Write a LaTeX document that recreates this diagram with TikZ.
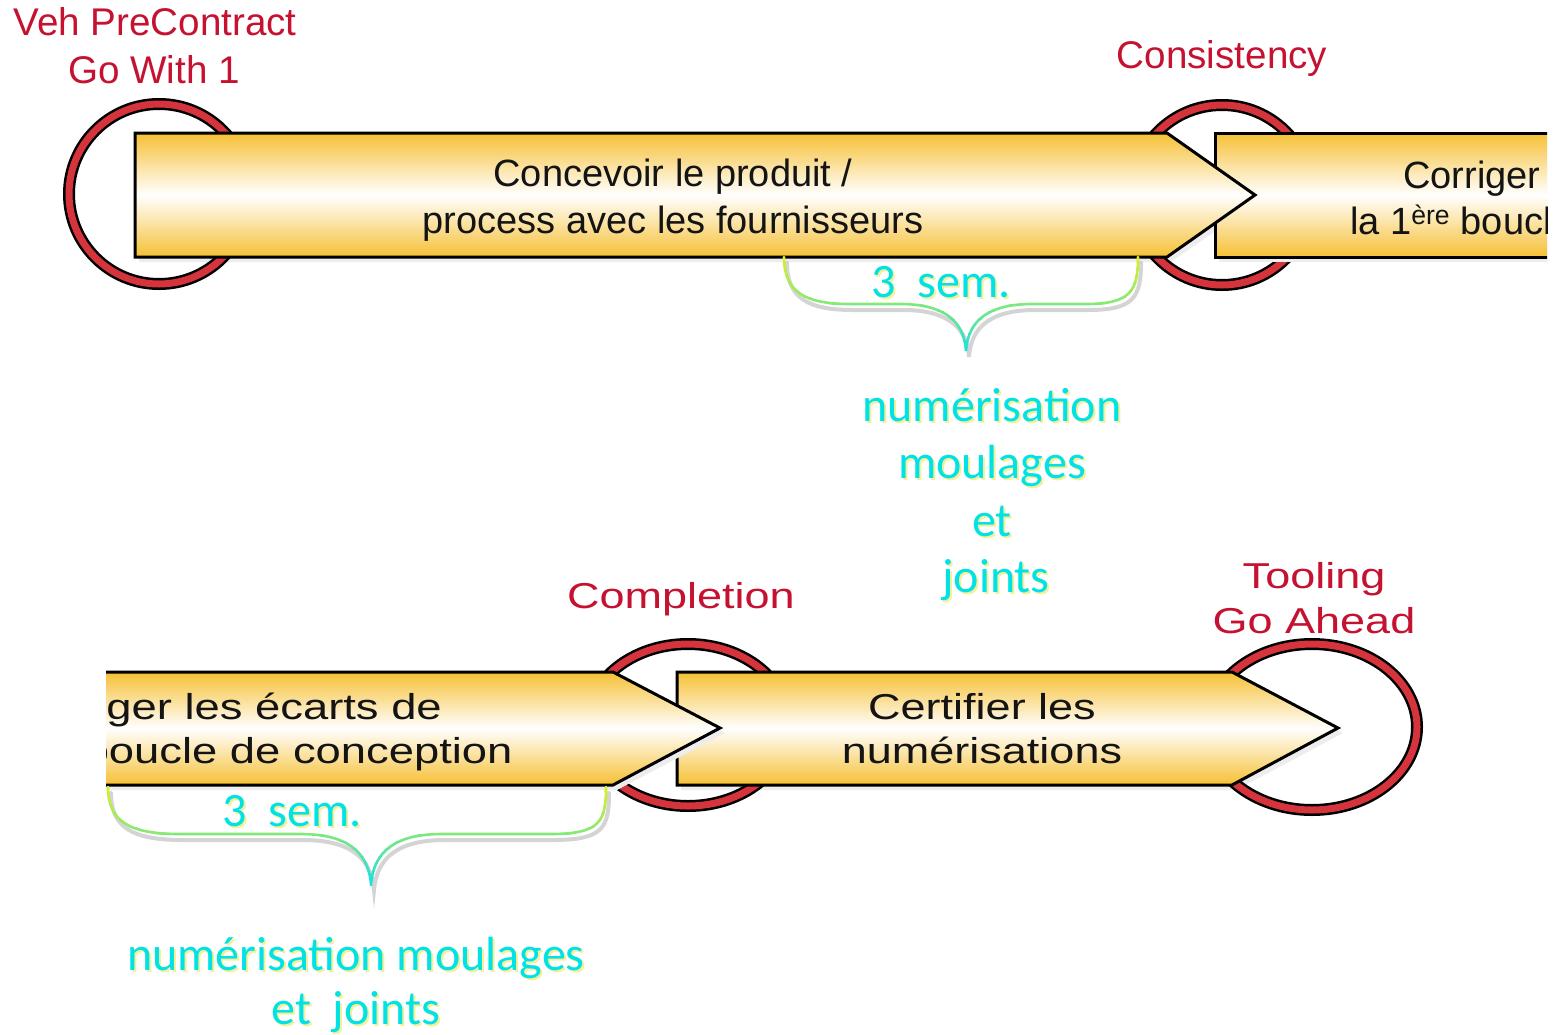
\documentclass[tikz,border=0pt]{standalone}
\usepackage{fontspec}
\setmainfont{Liberation Sans}
\newfontfamily\calfont{Carlito}
\usepackage{graphicx}
\definecolor{gold}{RGB}{246,192,52}
\definecolor{ringred}{RGB}{214,52,60}
\definecolor{ringpink}{RGB}{242,176,180}
\definecolor{lblred}{RGB}{196,18,48}
\definecolor{cyanT}{RGB}{0,226,230}
\definecolor{glowY}{RGB}{240,236,120}
\definecolor{txt}{RGB}{20,20,20}
\definecolor{brY}{RGB}{228,240,30}
\definecolor{brG}{RGB}{130,232,120}
\definecolor{brC}{RGB}{20,224,232}
\newcommand\ringat[5]{%
  \coordinate (#1) at (#2,#3);
  \draw[ringblack] (#1) ellipse [x radius=#4, y radius=#5];
  \draw[ringband] (#1) ellipse [x radius=#4, y radius=#5];
}
\newcommand\cyanline[5]{%
  \node[cyglow,#5] (#1g) at (#2+2,#3+2) {#4};
  \node[cytext,#5] (#1) at (#2,#3) {#4};
}
\tikzset{
  arrowshape/.style={draw=black, line width=3pt, line join=miter,
    top color=gold, bottom color=gold, middle color=white},
  arrowshadow/.style={fill=black!7},
  ringblack/.style={draw=black, line width=12pt},
  ringband/.style={draw=ringred, line width=7pt},
  lbl/.style={text=lblred, anchor=base, inner sep=0pt},
  lbltop/.style={lbl, font=\fontsize{38.6}{46}\selectfont},
  lblbot/.style={lbl, font=\fontsize{36}{44}\selectfont},
  arrtxt/.style={text=txt, anchor=base, inner sep=0pt},
  arrtop/.style={arrtxt, font=\fontsize{38}{48}\selectfont},
  arrbot/.style={arrtxt, font=\fontsize{36}{44}\selectfont},
  cytext/.style={text=cyanT, anchor=base, inner sep=0pt, font=\calfont\fontsize{48}{57}\selectfont},
  cyglow/.style={text=glowY, text opacity=0.75, anchor=base, inner sep=0pt, font=\calfont\fontsize{48}{57}\selectfont},
  braceshadow/.style={draw=black!55, draw opacity=0.3, line width=4pt, line cap=round},
  bracetop/.style={insert path={(784,257) .. controls (784,292) and (805,304) .. (850,304) -- (900,304) .. controls (940,304) and (964,318) .. (966,351) .. controls (968,318) and (992,304) .. (1032,304) -- (1085,304) .. controls (1130,304) and (1138,292) .. (1138,257)}},
  bracebot/.style={insert path={(108,787) .. controls (108,822) and (130,834) .. (180,834) -- (300,834) .. controls (345,834) and (368,850) .. (371,884) .. controls (374,850) and (397,834) .. (442,834) -- (550,834) .. controls (600,834) and (606,822) .. (606,787)}},
}
\begin{document}
\begin{tikzpicture}[x=1pt,y=-1pt]
\fill[white] (0,0) rectangle (1566,1034);
\useasboundingbox (0,0) rectangle (1566,1034);

% ---------- top row ----------
\fill[arrowshadow] (139,138) -- (1171,138) -- (1260,200) -- (1171,262) -- (139,262) -- cycle;
\ringat{r1}{159}{194}{90}{90}
\ringat{r2}{1222}{195}{90}{90}
\begin{scope}
  \clip (0,0) rectangle (1547,520);
  \fill[arrowshadow] (1219,138) -- (1600,138) -- (1600,262) -- (1219,262) -- cycle;
  \path[arrowshape] (1215,133) -- (1620,133) -- (1620,257) -- (1215,257) -- cycle;
  \node[arrtop] (a2l1) at (1585,188) {Corriger les écarts de};
  \node[arrtop] (a2l2) at (1585,234) {la 1\textsuperscript{ère} boucle de conception};
\end{scope}
\path[arrowshape] (135,133) -- (1167,133) -- (1255,195) -- (1167,257) -- (135,257) -- cycle;
\node[arrtop] (a1l1) at (673,186) {Concevoir le produit /};
\node[arrtop] (a1l2) at (673,233) {process avec les fournisseurs};

\node[lbltop] (veh1) at (155,35) {Veh PreContract};
\node[lbltop] (veh2) at (154,83) {Go With 1};
\node[lbltop] (cons) at (1222,68) {Consistency};

% top brace
\path[braceshadow, shift={(3,6)}, bracetop];
\foreach \i in {0,...,13}{
  \pgfmathsetmacro\ya{254+\i*7.2}
  \pgfmathsetmacro\yb{\ya+7.4}
  \pgfmathsetmacro\tt{(\i+0.5)/14}
  \pgfmathtruncatemacro\pa{max(0,100*(1-2*\tt))}
  \pgfmathtruncatemacro\pc{max(0,100*(2*\tt-1))}
  \colorlet{bcol}{brY!\pa!brG}
  \colorlet{bcol}{brC!\pc!bcol}
  \begin{scope}
    \clip (700,\ya) rectangle (1200,\yb);
    \draw[bcol, line width=2.6pt, line cap=round, bracetop];
  \end{scope}
}
\cyanline{sem1}{941}{297}{3~~sem.}{}
\cyanline{n1}{992}{421}{numérisation}{}
\cyanline{n2}{992}{478}{moulages}{}
\cyanline{n3}{992}{536}{et}{}
\cyanline{n4}{996}{592}{joints}{}

% ---------- bottom row ----------
\fill[arrowshadow] (681,677) -- (1236,677) -- (1343,733) -- (1236,790) -- (681,790) -- cycle;
\ringat{r3}{688}{725}{101}{81}
\ringat{r4}{1312}{727}{105}{83}
\path[arrowshape] (677,672) -- (1232,672) -- (1338,728) -- (1232,785) -- (677,785) -- cycle;
\node[arrbot] (b2l1) at (982,719) {\scalebox{1.25}[1]{Certifier les}};
\node[arrbot] (b2l2) at (982,763) {\scalebox{1.25}[1]{numérisations}};
\begin{scope}
  \clip (106,520) rectangle (1566,1034);
  \fill[arrowshadow] (94,677) -- (617,677) -- (725,733) -- (617,790) -- (94,790) -- cycle;
  \path[arrowshape] (80,672) -- (613,672) -- (720,728) -- (613,785) -- (80,785) -- cycle;
  \node[arrbot] (b1l1) at (225,719) {\scalebox{1.26}[1]{Corriger les écarts de}};
  \node[arrbot] (b1l2) at (232,763) {\scalebox{1.26}[1]{la 1\textsuperscript{ère} boucle de conception}};
\end{scope}

\node[lblbot] (comp) at (681,608) {\scalebox{1.25}[1]{Completion}};
\node[lblbot] (tool1) at (1314,588) {\scalebox{1.25}[1]{Tooling}};
\node[lblbot] (tool2) at (1314,633) {\scalebox{1.25}[1]{Go Ahead}};

% bottom brace
\path[braceshadow, shift={(3,6)}, bracebot];
\foreach \i in {0,...,13}{
  \pgfmathsetmacro\ya{784+\i*7.2}
  \pgfmathsetmacro\yb{\ya+7.4}
  \pgfmathsetmacro\tt{(\i+0.5)/14}
  \pgfmathtruncatemacro\pa{max(0,100*(1-2*\tt))}
  \pgfmathtruncatemacro\pc{max(0,100*(2*\tt-1))}
  \colorlet{bcol}{brY!\pa!brG}
  \colorlet{bcol}{brC!\pc!bcol}
  \begin{scope}
    \clip (60,\ya) rectangle (660,\yb);
    \draw[bcol, line width=2.6pt, line cap=round, bracebot];
  \end{scope}
}
\cyanline{sem2}{292}{826}{3~~sem.}{}
\cyanline{m1}{356}{970}{numérisation moulages}{}
\cyanline{m2}{356}{1024}{et~~joints}{}
\end{tikzpicture}
\end{document}
